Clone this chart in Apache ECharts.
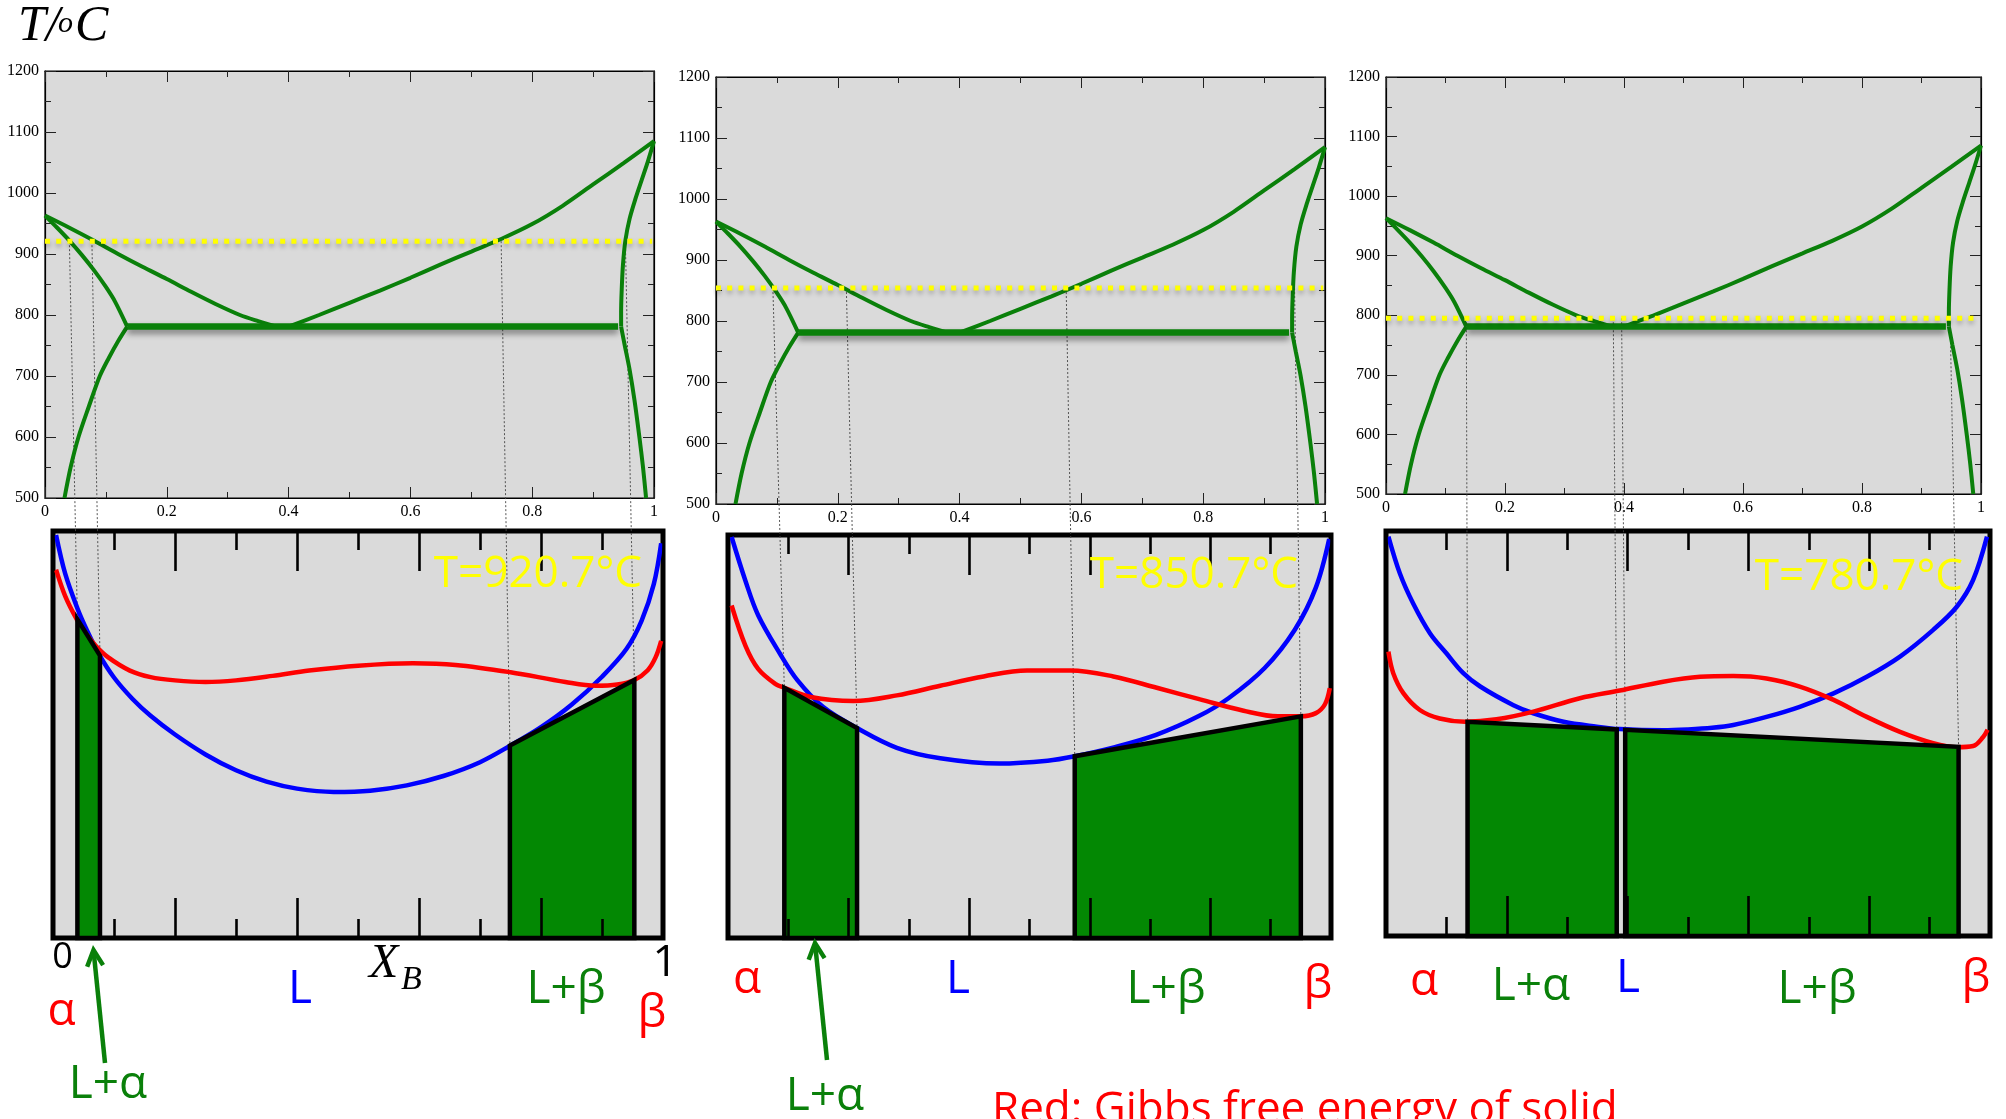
<!DOCTYPE html>
<html>
<head>
<meta charset="utf-8">
<title>Eutectic phase diagram and Gibbs free energy curves</title>
<script src="https://cdn.jsdelivr.net/npm/echarts@6.0.0/dist/echarts.min.js"></script>
<style>
  html, body { margin: 0; padding: 0; background: #fff; }
  #main { width: 2006px; height: 1119px; }
</style>
</head>
<body>
<div id="main"></div>
<script>
// ---- Phase boundaries of the A–B eutectic system, [X_B, T/°C] ----
const liquidusA = [[0,963],[0.04,943],[0.08,922],[0.12,900],[0.16,879],[0.20,859],[0.24,838],[0.28,818],[0.32,800],[0.35,790],[0.38,781]];
const liquidusB = [[0.40,781],[0.45,800],[0.50,820],[0.55,840],[0.60,861],[0.65,883],[0.70,904],[0.75,925],[0.80,949],[0.85,979],[0.90,1014],[0.95,1049],[1.0,1085]];
const solidusA = [[0,963],[0.02,943],[0.04,922],[0.06,899],[0.08,874],[0.10,846],[0.115,822],[0.135,781]];
const solvusA = [[0.135,781],[0.12,757],[0.105,730],[0.09,700],[0.072,650],[0.055,600],[0.042,550],[0.032,500]];
const solidusB = [[1.0,1085],[0.99,1052],[0.98,1022],[0.97,992],[0.96,958],[0.953,922],[0.949,882],[0.947,842],[0.946,805],[0.946,781]];
const solvusB = [[0.946,781],[0.952,750],[0.96,710],[0.968,660],[0.976,600],[0.982,550],[0.987,500]];
const eutecticT = 781;
const eutecticSpan = [0.135, 0.941];

// Temperatures of the three isothermal sections
const sectionTemps = [920.7, 850.7, 780.7];
// Level of the dotted isotherm marker in each diagram
const markerTemps = [921, 854, 795];

// ---- Gibbs free energy curves (arbitrary units), [X_B, G] ----
const gLiquid920 = [[0.005,99],[0.02,89.5],[0.04,81],[0.055,75.8],[0.075,69.8],[0.10,64],[0.13,58.8],[0.16,54.6],[0.20,50],[0.25,45.1],[0.30,41.2],[0.35,38.4],[0.40,36.7],[0.46,35.9],[0.52,36.2],[0.58,37.5],[0.64,39.8],[0.70,43.2],[0.75,47.3],[0.80,51.8],[0.85,57.3],[0.90,64.2],[0.94,71],[0.965,78],[0.985,87],[0.997,97]];
const gSolid920 = [[0.005,90.5],[0.02,84],[0.039,78.3],[0.055,74.6],[0.07,71.8],[0.09,69],[0.126,65.7],[0.16,64.1],[0.20,63.3],[0.25,62.9],[0.30,63.3],[0.36,64.4],[0.42,65.7],[0.50,66.9],[0.59,67.5],[0.66,67.1],[0.75,65.3],[0.84,62.9],[0.89,62],[0.925,62.3],[0.953,63.4],[0.975,65.8],[0.988,69],[0.997,73]];

const gLiquid850 = [[0.006,99.5],[0.029,88.6],[0.05,80.1],[0.086,70.6],[0.115,64],[0.158,57.3],[0.214,52.1],[0.28,47.2],[0.352,44.6],[0.45,43.3],[0.53,44],[0.575,45.1],[0.64,47.3],[0.71,50.4],[0.78,55],[0.83,59.5],[0.89,67],[0.94,76.5],[0.975,87],[0.997,99]];
const gSolid850 = [[0.006,82.5],[0.029,72.5],[0.05,66.8],[0.079,63],[0.0934,62.1],[0.137,59.8],[0.208,58.8],[0.28,60.2],[0.352,62.6],[0.424,64.9],[0.496,66.4],[0.568,66.4],[0.639,64.9],[0.711,62.1],[0.783,59.2],[0.855,56.4],[0.912,55],[0.95,55],[0.975,55.8],[0.99,58],[0.998,62]];

const gLiquid780 = [[0.004,98.6],[0.023,89.5],[0.045,82.1],[0.073,74.7],[0.10,69.8],[0.128,64.9],[0.156,61.6],[0.211,57],[0.244,55],[0.294,52.9],[0.349,51.7],[0.387,51.1],[0.459,50.8],[0.50,51],[0.54,51.4],[0.575,52.1],[0.63,54.1],[0.685,56.6],[0.741,59.9],[0.796,64],[0.851,69],[0.906,75.6],[0.945,81.3],[0.972,87.9],[0.995,98.6]];
const gSolid780 = [[0.004,70.2],[0.012,64.9],[0.029,59.9],[0.056,55.8],[0.089,53.7],[0.131,52.9],[0.183,53.5],[0.244,55.4],[0.321,58.7],[0.387,60.6],[0.459,62.8],[0.52,64],[0.575,64.2],[0.63,63.6],[0.685,61.6],[0.741,58.3],[0.796,54.1],[0.851,50.4],[0.906,47.6],[0.945,46.6],[0.972,46.9],[0.989,49.2],[0.996,50.9]];

// Common-tangent (two-phase) regions: [x1, G1, x2, G2]
const tangents920 = [[0.04,78.3,0.077,69.4],[0.749,47.3,0.953,63.4]];
const tangents850 = [[0.0934,62.1,0.214,52.1],[0.575,45.1,0.95,55]];
const tangents780 = [[0.135,52.9,0.382,51.0],[0.396,50.9,0.948,46.7]];

const liquidCurves = [gLiquid920, gLiquid850, gLiquid780];
const solidCurves = [gSolid920, gSolid850, gSolid780];
const tangentSets = [tangents920, tangents850, tangents780];

// ---- Styling ----
const PANEL_BG = '#dadada';
const GREEN_LINE = '#0a800a';
const GREEN_FILL = '#038803';
const GREEN_TXT = '#0a800a';
const RED = '#ff0000';
const BLUE = '#0000ff';
const SERIF = '"Liberation Serif", "Times New Roman", serif';
const SANS = '"Open Sans", "Noto Sans", sans-serif';

const topBoxes = [
  { left: 45, top: 71, width: 609, height: 427 },
  { left: 716, top: 77, width: 609, height: 427 },
  { left: 1386, top: 77, width: 595, height: 417 }
];
const botBoxes = [
  { left: 53, top: 531, width: 610, height: 407 },
  { left: 728, top: 535, width: 603, height: 403 },
  { left: 1386, top: 531, width: 604, height: 405 }
];

const chart = echarts.init(document.getElementById('main'));
const grids = [], xAxes = [], yAxes = [], series = [];
const fmtX = v => (v === 0 ? '0' : v === 1 ? '1' : v.toFixed(1));
const fmtY = v => String(v);

// Phase diagrams (grids 0..2)
const topSeriesIdx = [];
topBoxes.forEach((b, i) => {
  grids.push(Object.assign({ show: true, backgroundColor: PANEL_BG, borderColor: '#000', borderWidth: 1.2 }, b));
  const tick = { show: true, inside: true, length: 11, lineStyle: { color: '#222', width: 1 } };
  const minor = { show: true, splitNumber: 2, length: 6, lineStyle: { color: '#222', width: 1 } };
  const line = { show: true, onZero: false, lineStyle: { color: '#000', width: 1.2 } };
  const lab = { fontFamily: SERIF, fontSize: 16, color: '#000' };
  xAxes.push({ gridIndex: i, type: 'value', position: 'bottom', min: 0, max: 1, interval: 0.2,
    axisLine: line, axisTick: tick, minorTick: minor, splitLine: { show: false },
    axisLabel: Object.assign({ margin: 6, formatter: fmtX, showMinLabel: true, showMaxLabel: true }, lab) });
  xAxes.push({ gridIndex: i, type: 'value', position: 'top', min: 0, max: 1, interval: 0.2,
    axisLine: line, axisTick: tick, minorTick: minor, splitLine: { show: false }, axisLabel: { show: false } });
  yAxes.push({ gridIndex: i, type: 'value', position: 'left', min: 500, max: 1200, interval: 100,
    axisLine: line, axisTick: tick, minorTick: minor, splitLine: { show: false },
    axisLabel: Object.assign({ margin: 6, formatter: fmtY, showMinLabel: true, showMaxLabel: true }, lab) });
  yAxes.push({ gridIndex: i, type: 'value', position: 'right', min: 500, max: 1200, interval: 100,
    axisLine: line, axisTick: tick, minorTick: minor, splitLine: { show: false }, axisLabel: { show: false } });

  const ax = { xAxisIndex: 2 * i, yAxisIndex: 2 * i };
  topSeriesIdx.push(series.length);
  [liquidusA, liquidusB, solidusA, solvusA, solidusB, solvusB].forEach(curve => {
    series.push(Object.assign({ type: 'line', data: curve, smooth: 0.3, showSymbol: false, silent: true,
      lineStyle: { color: GREEN_LINE, width: 4 }, z: 3 }, ax));
  });
  series.push(Object.assign({ type: 'line', showSymbol: false, silent: true,
    data: [[eutecticSpan[0], eutecticT], [eutecticSpan[1], eutecticT]],
    lineStyle: { color: GREEN_LINE, width: 6.5, cap: 'butt',
      shadowColor: 'rgba(0,0,0,0.45)', shadowBlur: 6, shadowOffsetY: 4 }, z: 3 }, ax));
  series.push(Object.assign({ type: 'line', showSymbol: false, silent: true,
    data: [[0, markerTemps[i]], [0.997, markerTemps[i]]],
    lineStyle: { color: '#ffff00', width: 5, type: [5, 6.2], cap: 'butt',
      shadowColor: 'rgba(0,0,0,0.3)', shadowBlur: 5, shadowOffsetY: 3 }, z: 5 }, ax));
});

// Free energy panels (grids 3..5)
const botSeriesIdx = [];
botBoxes.forEach((b, j) => {
  const gi = 3 + j;
  grids.push(Object.assign({ show: true, backgroundColor: PANEL_BG, borderColor: '#000', borderWidth: 5 }, b));
  const tick = { show: true, inside: true, length: 40, lineStyle: { color: '#000', width: 2.6 } };
  const minor = { show: true, splitNumber: 2, length: 19, lineStyle: { color: '#000', width: 2.6 } };
  ['bottom', 'top'].forEach(pos => {
    xAxes.push({ gridIndex: gi, type: 'value', position: pos, min: 0, max: 1, interval: 0.2, z: 6,
      axisLine: { show: false }, axisTick: tick, minorTick: minor, splitLine: { show: false },
      axisLabel: { show: false } });
  });
  yAxes.push({ gridIndex: gi, type: 'value', min: 0, max: 100, show: false });

  const ax = { xAxisIndex: 6 + 2 * j, yAxisIndex: 6 + j };
  botSeriesIdx.push(series.length);
  series.push(Object.assign({ type: 'line', data: liquidCurves[j], smooth: 0.35, showSymbol: false, silent: true,
    lineStyle: { color: BLUE, width: 4.5 }, z: 2 }, ax));
  series.push(Object.assign({ type: 'line', data: solidCurves[j], smooth: 0.35, showSymbol: false, silent: true,
    lineStyle: { color: RED, width: 4.5 }, z: 2 }, ax));
  series.push(Object.assign({ type: 'custom', data: tangentSets[j], silent: true, z: 4,
    renderItem: (params, api) => {
      const x1 = api.value(0), g1 = api.value(1), x2 = api.value(2), g2 = api.value(3);
      return {
        type: 'polygon',
        shape: { points: [api.coord([x1, 0]), api.coord([x1, g1]), api.coord([x2, g2]), api.coord([x2, 0])] },
        style: { fill: GREEN_FILL, stroke: '#000', lineWidth: 4.5, lineJoin: 'miter' }
      };
    } }, ax));
});

chart.setOption({
  animation: false,
  backgroundColor: '#ffffff',
  grid: grids,
  xAxis: xAxes,
  yAxis: yAxes,
  series: series
});

// ---- Annotations ----
const graphics = [];

// Thin guide lines from each isotherm intersection down to its tangent point
tangentSets.forEach((set, j) => {
  set.forEach(t => {
    [[t[0], t[1]], [t[2], t[3]]].forEach(([x, g]) => {
      const p1 = chart.convertToPixel({ seriesIndex: topSeriesIdx[j] }, [x, markerTemps[j]]);
      const p2 = chart.convertToPixel({ seriesIndex: botSeriesIdx[j] }, [x, g]);
      graphics.push({ type: 'line', z: 1, silent: true,
        shape: { x1: p1[0], y1: p1[1], x2: p2[0], y2: p2[1] },
        style: { stroke: '#444', lineWidth: 0.9, lineDash: [2, 2] } });
    });
  });
});

function txt(text, x, y, color, size, opts) {
  graphics.push(Object.assign({ type: 'text', x: x, y: y, z: 50, silent: true,
    style: Object.assign({ text: text, fill: color, font: size + 'px ' + SANS, align: 'center', verticalAlign: 'middle' }, opts || {}) }));
}

// Axis title of the phase diagrams: T/°C
graphics.push({ type: 'text', x: 18, y: 27, z: 50, silent: true,
  style: { text: 'T/', fill: '#000', font: 'italic 50px ' + SERIF, align: 'left', verticalAlign: 'middle' } });
graphics.push({ type: 'text', x: 58, y: 24, z: 50, silent: true,
  style: { text: 'o', fill: '#000', font: 'italic 30px ' + SERIF, align: 'left', verticalAlign: 'middle' } });
graphics.push({ type: 'text', x: 75, y: 27, z: 50, silent: true,
  style: { text: 'C', fill: '#000', font: 'italic 50px ' + SERIF, align: 'left', verticalAlign: 'middle' } });

// Section temperatures
const tempAnchors = [[642, 574], [1298, 575], [1963, 577]];
sectionTemps.forEach((t, j) => {
  txt('T=' + t.toFixed(1) + '°C', tempAnchors[j][0], tempAnchors[j][1], '#ffff00', 44, { align: 'right' });
});

// Composition axis of the first panel
txt('0', 62.5, 958, '#000', 36);
txt('1', 665, 963, '#000', 44);
graphics.push({ type: 'text', x: 369, y: 964, z: 50, silent: true,
  style: { text: 'X', fill: '#000', font: 'italic 48px ' + SERIF, align: 'left', verticalAlign: 'middle' } });
graphics.push({ type: 'text', x: 401, y: 980, z: 50, silent: true,
  style: { text: 'B', fill: '#000', font: 'italic 34px ' + SERIF, align: 'left', verticalAlign: 'middle' } });

// Phase-field labels
txt('α', 61.5, 1012, RED, 46);
txt('L+α', 108, 1085, GREEN_TXT, 46);
txt('L', 300, 990, BLUE, 46);
txt('L+β', 566, 990, GREEN_TXT, 46);
txt('β', 652, 1014, RED, 46);

txt('α', 747, 980, RED, 46);
txt('L', 958, 980, BLUE, 46);
txt('L+β', 1166, 990, GREEN_TXT, 46);
txt('β', 1318, 985, RED, 46);
txt('L+α', 825, 1097, GREEN_TXT, 46);

txt('α', 1424, 982, RED, 46);
txt('L+α', 1531, 987, GREEN_TXT, 46);
txt('L', 1628, 979, BLUE, 46);
txt('L+β', 1817, 990, GREEN_TXT, 46);
txt('β', 1976, 979, RED, 46);

txt('Red: Gibbs free energy of solid', 992, 1110, RED, 44, { align: 'left' });

// Arrows pointing at the narrow L+α fields
function arrow(tail, tip) {
  const dx = tip[0] - tail[0], dy = tip[1] - tail[1];
  const len = Math.sqrt(dx * dx + dy * dy);
  const ux = dx / len, uy = dy / len;
  const hl = 16, hw = 8;
  const bx = tip[0] - ux * hl, by = tip[1] - uy * hl;
  const l = [bx - uy * hw, by + ux * hw], r = [bx + uy * hw, by - ux * hw];
  graphics.push({ type: 'line', z: 50, silent: true,
    shape: { x1: tail[0], y1: tail[1], x2: tip[0] - ux * 2, y2: tip[1] - uy * 2 },
    style: { stroke: GREEN_TXT, lineWidth: 4.5 } });
  graphics.push({ type: 'polyline', z: 50, silent: true,
    shape: { points: [l, tip, r] },
    style: { stroke: GREEN_TXT, lineWidth: 4.5, fill: null, lineJoin: 'miter' } });
}
arrow([105, 1063], [93.5, 950]);
arrow([827, 1060], [815, 943]);

chart.setOption({ graphic: graphics });
</script>
</body>
</html>
